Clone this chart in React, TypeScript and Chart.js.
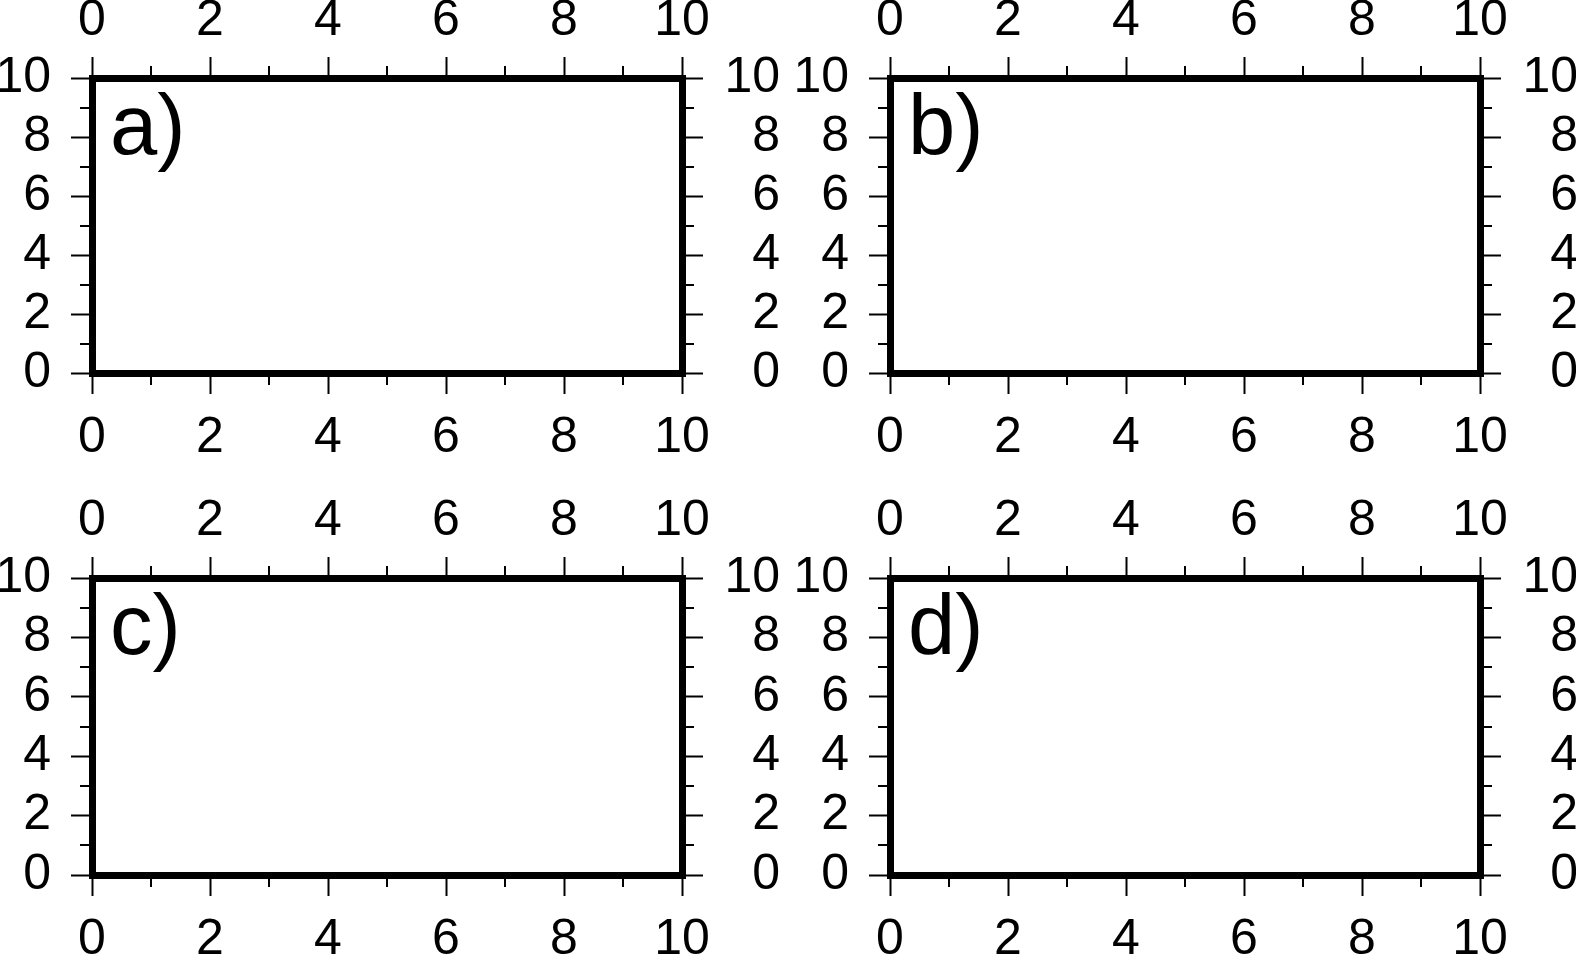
import React, { useEffect, useRef } from "react";
import { Chart, registerables } from "chart.js";

Chart.register(...registerables);

// ---- data (axis ranges, tick values, panel tags) ----
const axisMin = 0;
const axisMax = 10;
const xMajorTicks = [0, 2, 4, 6, 8, 10];
const yMajorTicks = [0, 2, 4, 6, 8, 10];
const xMinorTicks = [1, 3, 5, 7, 9];
const yMinorTicks = [1, 3, 5, 7, 9];
const panelTags = ["a)", "b)", "c)", "d)"];
const panelData: { x: number; y: number }[][] = [[], [], [], []];

const FONT = "'Liberation Sans', Arial, Helvetica, sans-serif";
const RIGHT_AXIS_W = 98;

type PanelLayout = {
  ox: number; oy: number; w: number; h: number;
  L: number; R: number; T: number; B: number;
};

const layouts: PanelLayout[] = [
  { ox: 0, oy: 0, w: 788, h: 477, L: 92, R: 682, T: 78, B: 373 },
  { ox: 788, oy: 0, w: 790, h: 477, L: 102, R: 692, T: 78, B: 373 },
  { ox: 0, oy: 477, w: 788, h: 477, L: 92, R: 682, T: 101, B: 398 },
  { ox: 788, oy: 477, w: 790, h: 477, L: 102, R: 692, T: 101, B: 398 },
];

const minorTickPlugin = {
  id: "minorTicks",
  afterDraw(chart: any) {
    const ctx = chart.ctx;
    const area = chart.chartArea;
    const len = 12;
    ctx.save();
    ctx.strokeStyle = "#000";
    ctx.lineWidth = 2;
    const draw = (x1: number, y1: number, x2: number, y2: number) => {
      ctx.beginPath();
      ctx.moveTo(x1, y1);
      ctx.lineTo(x2, y2);
      ctx.stroke();
    };
    const sx = chart.scales.x;
    const sy = chart.scales.y;
    xMinorTicks.forEach((v) => {
      const p = Math.round(sx.getPixelForValue(v));
      draw(p, area.bottom, p, area.bottom + len);
      draw(p, area.top, p, area.top - len);
    });
    yMinorTicks.forEach((v) => {
      const p = Math.round(sy.getPixelForValue(v));
      draw(area.left, p, area.left - len, p);
      draw(area.right, p, area.right + len, p);
    });
    ctx.restore();
  },
};

const panelTagPlugin = {
  id: "panelTag",
  afterDraw(chart: any, _args: any, opts: any) {
    const ctx = chart.ctx;
    const area = chart.chartArea;
    ctx.save();
    ctx.fillStyle = "#000";
    ctx.font = `85px ${FONT}`;
    ctx.textAlign = "left";
    ctx.textBaseline = "alphabetic";
    ctx.fillText(opts.text || "", area.left + 18, area.top + 76);
    ctx.restore();
  },
};

function makeAxis(
  axis: "x" | "y",
  position: string,
  ticksArr: number[],
  fit: (s: any) => void,
  padding: number,
  crossAlign: string
) {
  return {
    type: "linear",
    axis,
    position,
    min: axisMin,
    max: axisMax,
    afterBuildTicks: (s: any) => {
      s.ticks = ticksArr.map((v) => ({ value: v }));
    },
    afterFit: fit,
    grid: {
      display: true,
      drawOnChartArea: false,
      drawTicks: true,
      tickLength: 21,
      tickWidth: 2,
      tickColor: "#000",
      lineWidth: 7,
      color: "#000",
    },
    border: { display: true, width: 7, color: "#000" },
    ticks: {
      autoSkip: false,
      maxRotation: 0,
      minRotation: 0,
      padding,
      crossAlign,
      color: "#000",
      font: { family: FONT, size: 50 },
      callback: (v: any) => String(v),
    },
  };
}

function Panel({ idx }: { idx: number }) {
  const ref = useRef<HTMLCanvasElement | null>(null);
  const lay = layouts[idx];
  useEffect(() => {
    if (!ref.current) return;
    const chart = new Chart(ref.current, {
      type: "scatter",
      data: {
        datasets: [
          { data: panelData[idx], xAxisID: "x", yAxisID: "y", pointRadius: 0 },
        ],
      },
      options: {
        animation: false,
        responsive: false,
        devicePixelRatio: 1,
        layout: { padding: { left: 0, top: 0, bottom: 0, right: lay.w - lay.R - RIGHT_AXIS_W } },
        plugins: {
          legend: { display: false },
          tooltip: { enabled: false },
          title: { display: false },
          panelTag: { text: panelTags[idx] },
        } as any,
        scales: {
          x: makeAxis("x", "bottom", xMajorTicks, (s: any) => { s.height = lay.h - lay.B; }, 14, "near"),
          x2: makeAxis("x", "top", xMajorTicks, (s: any) => { s.height = lay.T; }, 6, "near"),
          y: makeAxis("y", "left", yMajorTicks, (s: any) => { s.width = lay.L; }, 20, "near"),
          y2: makeAxis("y", "right", yMajorTicks, (s: any) => { s.width = RIGHT_AXIS_W; }, 11, "far"),
        } as any,
      },
      plugins: [minorTickPlugin, panelTagPlugin],
    } as any);
    return () => chart.destroy();
  }, [idx]);
  return (
    <canvas
      ref={ref}
      width={lay.w}
      height={lay.h}
      style={{ position: "absolute", left: lay.ox, top: lay.oy, width: lay.w, height: lay.h }}
    />
  );
}

export default function App() {
  return (
    <div
      style={{
        position: "fixed",
        left: 0,
        top: 0,
        width: 1576,
        height: 954,
        background: "#fff",
        overflow: "hidden",
      }}
    >
      {panelTags.map((_, i) => (
        <Panel key={i} idx={i} />
      ))}
    </div>
  );
}
